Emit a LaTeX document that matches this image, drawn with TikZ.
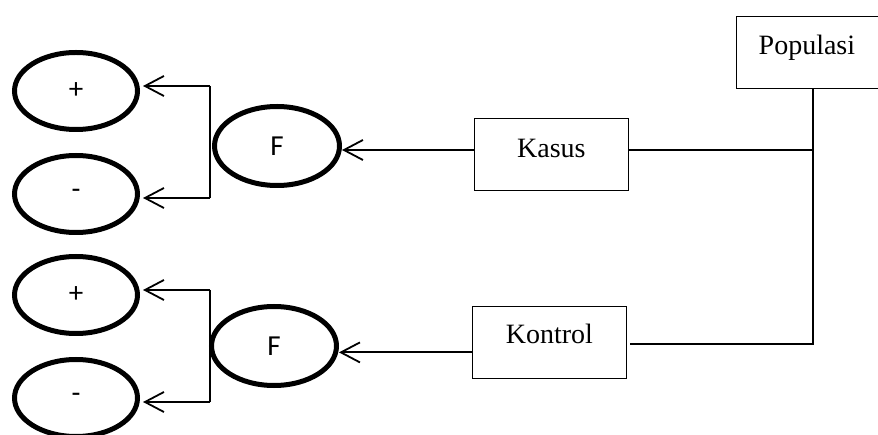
\documentclass[tikz,border=0pt]{standalone}
\usepackage{fontspec}
\setmainfont{Liberation Serif}
\newfontfamily\elfont{Carlito}
\usetikzlibrary{shapes.geometric,arrows.meta}
\begin{document}
\begin{tikzpicture}[x=1pt,y=-1pt,
  boxnode/.style={draw,line width=0.8pt,anchor=north west,inner xsep=0pt,inner ysep=0pt,
    font=\fontsize{28}{30}\selectfont},
  ellnode/.style={draw,ellipse,line width=5pt,inner sep=0pt,font=\elfont\fontsize{29}{31}\selectfont},
  smallell/.style={ellnode,minimum width=123pt,minimum height=77pt},
  bigell/.style={ellnode,minimum width=125pt,minimum height=79pt},
  conn/.style={line width=1.8pt},
  arr/.style={line width=1.8pt,-{Straight Barb[length=19pt,width=20pt]}}]
\useasboundingbox (0,0) rectangle (878,435);

% boxes
\node[boxnode,minimum width=144pt,text height=38pt,text depth=34pt] (pop) at (736,16) {\hspace*{-3pt}Populasi};
\node[boxnode,minimum width=154pt,text height=39pt,text depth=33pt] (kasus) at (474,118) {Kasus};
\node[boxnode,minimum width=154pt,text height=37pt,text depth=35pt] (kontrol) at (472,306) {Kontrol};

% ellipses
\node[smallell] (p1) at (76,91) {+};
\node[smallell] (m1) at (76,194) {-};
\node[bigell] (f1) at (277,146) {F};
\node[smallell] (p2) at (76,295) {+};
\node[smallell] (m2) at (76,398) {-};
\node[bigell] (f2) at (274,346) {F};

% population connectors
\coordinate (jk) at (813,150);
\coordinate (jc) at (813,344);
\draw[conn] (pop.south -| jk) -- (jc) -- ([xshift=3pt]jc -| kontrol.east);
\draw[conn] (kasus.east |- jk) -- (jk);

% arrows to F
\draw[arr] (kasus.west |- jk) -- (f1.east |- jk);
\coordinate (k2) at ([yshift=-10pt]kontrol.west);
\draw[arr] (k2) -- (k2 -| f2.east);

% brackets
\coordinate (b1t) at (210,86);
\coordinate (b1b) at (210,198);
\draw[conn] (b1t) -- (b1b);
\draw[arr] (b1t) -- ([xshift=3pt]b1t -| p1.east);
\draw[arr] (b1b) -- ([xshift=3pt]b1b -| m1.east);

\coordinate (b2t) at (210,290);
\coordinate (b2b) at (210,402);
\draw[conn] (b2t) -- (b2b);
\draw[arr] (b2t) -- ([xshift=3pt]b2t -| p2.east);
\draw[arr] (b2b) -- ([xshift=3pt]b2b -| m2.east);
\end{tikzpicture}
\end{document}
